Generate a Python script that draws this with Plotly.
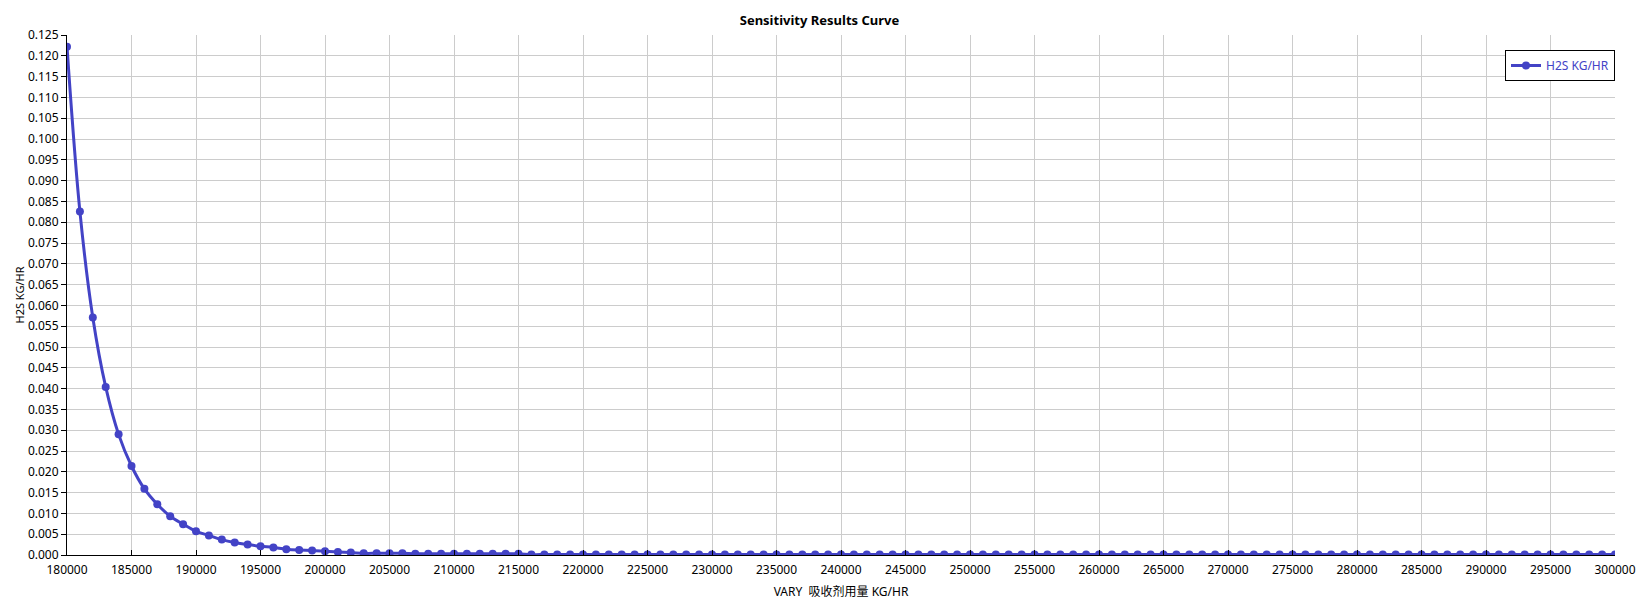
import plotly.graph_objects as go

# sensitivity case: absorbent flow (kg/hr) vs H2S (kg/hr)
vary_flow = list(range(180000, 301000, 1000))
h2s_flow = [
    0.1222, 0.0826, 0.0571, 0.0404, 0.0290, 0.0214, 0.0159, 0.0122, 0.0093, 0.0074,
    0.0057, 0.0047, 0.0037, 0.0030, 0.0025, 0.0021, 0.0018, 0.0014, 0.0012, 0.0011,
    0.0009, 0.0007, 0.0006, 0.0004, 0.0004, 0.0004, 0.0004, 0.0003, 0.0003, 0.0003,
    0.0003, 0.0003, 0.0003, 0.0003, 0.0003, 0.0003, 0.0001, 0.0001, 0.0001, 0.0001,
    0.0001, 0.0001, 0.0001, 0.0001, 0.0001, 0.0001, 0.0001, 0.0001, 0.0001, 0.0001,
    0.0001, 0.0001, 0.0001, 0.0001, 0.0001, 0.0001, 0.0001, 0.0001, 0.0001, 0.0001,
    0.0001, 0.0001, 0.0001, 0.0001, 0.0001, 0.0001, 0.0001, 0.0001, 0.0001, 0.0001,
    0.0001, 0.0001, 0.0001, 0.0001, 0.0001, 0.0001, 0.0001, 0.0001, 0.0001, 0.0001,
    0.0001, 0.0001, 0.0001, 0.0001, 0.0001, 0.0001, 0.0001, 0.0001, 0.0001, 0.0001,
    0.0001, 0.0001, 0.0001, 0.0001, 0.0001, 0.0001, 0.0001, 0.0001, 0.0001, 0.0001,
    0.0001, 0.0001, 0.0001, 0.0001, 0.0001, 0.0001, 0.0001, 0.0001, 0.0001, 0.0001,
    0.0001, 0.0001, 0.0001, 0.0001, 0.0001, 0.0001, 0.0001, 0.0001, 0.0001, 0.0001,
    0.0001,
]

BLUE = "#4343c6"
FONT = "Noto Sans, Noto Sans CJK SC, sans-serif"

fig = go.Figure()
fig.add_trace(
    go.Scatter(
        x=vary_flow,
        y=h2s_flow,
        mode="lines+markers",
        line=dict(color=BLUE, width=3, shape="spline"),
        marker=dict(color=BLUE, size=8),
        name="H2S KG/HR",
    )
)

axis_common = dict(
    showgrid=True,
    gridcolor="#cccccc",
    gridwidth=1,
    showline=True,
    linecolor="black",
    linewidth=1,
    ticklen=5,
    tickcolor="black",
    tickfont=dict(family=FONT, size=12, color="black"),
    zeroline=False,
    automargin=False,
)

fig.update_layout(
    width=1639,
    height=603,
    paper_bgcolor="white",
    plot_bgcolor="white",
    margin=dict(l=67, r=24, t=35, b=48),
    font=dict(family=FONT, size=12, color="black"),
    title=dict(
        text="<b>Sensitivity Results Curve</b>",
        x=0.5,
        xanchor="center",
        y=1 - 20 / 603,
        yanchor="middle",
        font=dict(family=FONT, size=13, color="black"),
    ),
    xaxis=dict(
        **axis_common,
        range=[180000, 300000],
        dtick=5000,
        tick0=180000,
        tickformat="d",
        ticks="inside",
        ticklabelstandoff=4,
        title=dict(text="VARY  吸收剂用量 KG/HR", font=dict(family=FONT, size=12), standoff=10),
    ),
    yaxis=dict(
        **axis_common,
        range=[0, 0.125],
        dtick=0.005,
        tickformat=".3f",
        ticks="outside",
        title=dict(text="H2S KG/HR", font=dict(family=FONT, size=11), standoff=1),
    ),
    legend=dict(
        x=1,
        xanchor="right",
        y=1 - 15 / 520,
        yanchor="top",
        bgcolor="white",
        bordercolor="black",
        borderwidth=1,
        font=dict(family=FONT, size=12, color=BLUE),
    ),
    showlegend=True,
)

fig.write_html(
    "out.html",
    config={"displayModeBar": False},
    post_script="document.body.style.margin='0';",
)
